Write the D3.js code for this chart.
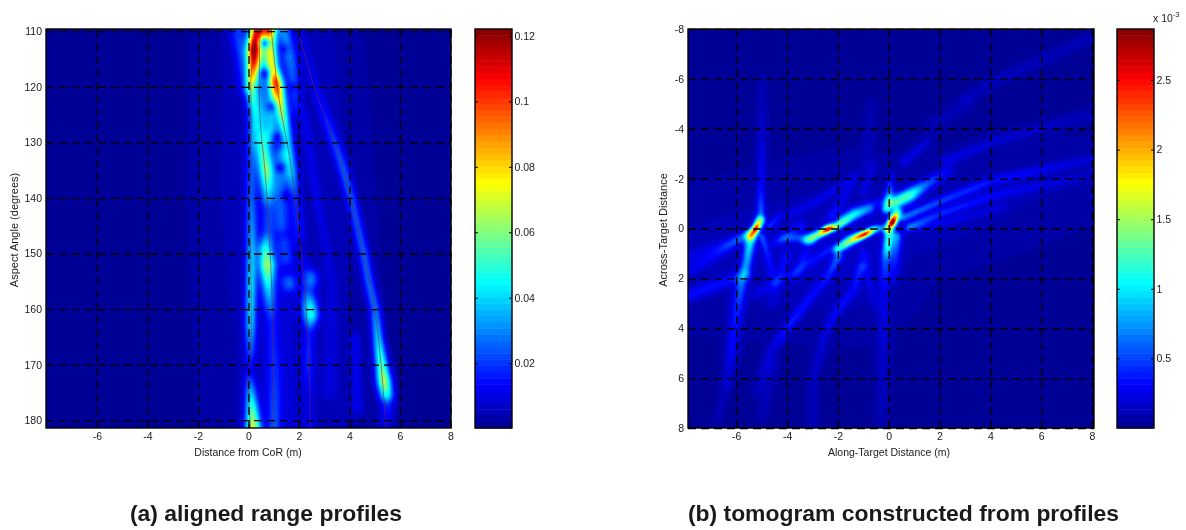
<!DOCTYPE html>
<html>
<head>
<meta charset="utf-8">
<script src="https://cdnjs.cloudflare.com/ajax/libs/d3/7.8.5/d3.min.js"></script>
<style>
  html, body { margin: 0; padding: 0; background: #fff; }
  #wrap { position: relative; width: 1186px; height: 530px; overflow: hidden; }
  canvas { position: absolute; }
  svg { position: absolute; left: 0; top: 0; }
  text { font-family: "Liberation Sans", Arial, sans-serif; fill: #1a1a1a; }
  .domain { display: none; }
</style>
</head>
<body>
<div id="wrap"></div>
<script>
// axis ticks
var rangeTicks = [-6, -4, -2, 0, 2, 4, 6, 8];
var angleTicks = [110, 120, 130, 140, 150, 160, 170, 180];
var alongTicks = [-6, -4, -2, 0, 2, 4, 6, 8];
var acrossTicks = [-8, -6, -4, -2, 0, 2, 4, 6, 8];
var profileBarTicks = [0.02, 0.04, 0.06, 0.08, 0.1, 0.12];
var tomoBarTicks = [0.5, 1, 1.5, 2, 2.5];

// jet colormap stops
var jetStops = ["#00008f", "#0000ff", "#00ffff", "#ffff00", "#ff0000", "#800000"];

// range profiles, each ridge is a list of [distance m, angle deg, amplitude, half width m]
var profileRidges = [
  // broad glow behind the scatterers
  [[0.9, 108, 0.007, 0.6], [1.0, 125, 0.009, 0.65], [1.0, 145, 0.008, 0.7], [1.3, 165, 0.006, 0.8], [1.2, 182, 0.007, 0.8]],
  [[-0.5, 108, 0.003, 1.2], [-0.6, 140, 0.003, 1.2], [-0.5, 182, 0.002, 1.2]],
  [[3.0, 110, 0.003, 1.0], [3.6, 145, 0.003, 1.0], [3.4, 182, 0.003, 1.2]],
  // left scatterer
  [[0.3, 109, 0.09, 0.17], [0.2, 113, 0.135, 0.16], [0.18, 116, 0.105, 0.15], [0.08, 120, 0.062, 0.13], [0.18, 125, 0.03, 0.13], [0.1, 132, 0.018, 0.13], [0.08, 140, 0.022, 0.13], [0.1, 147, 0.032, 0.13], [0.08, 155, 0.044, 0.13], [0.06, 163, 0.04, 0.13], [0.05, 168, 0.02, 0.13], [-0.02, 171, 0.008, 0.12], [0.05, 174, 0.03, 0.14], [0.12, 178, 0.056, 0.16], [0.18, 182, 0.074, 0.2]],
  // middle scatterer
  [[0.6, 109, 0.07, 0.16], [0.55, 112, 0.03, 0.13], [0.45, 120, 0.018, 0.14], [0.45, 127, 0.03, 0.17], [0.55, 131, 0.046, 0.2], [0.68, 135, 0.056, 0.19], [0.72, 138, 0.04, 0.17], [0.75, 142, 0.012, 0.14], [0.75, 146, 0.014, 0.15], [0.65, 149, 0.044, 0.18], [0.72, 152, 0.062, 0.2], [0.76, 156, 0.038, 0.16], [0.9, 162, 0.01, 0.15], [1.0, 172, 0.012, 0.18], [1.0, 182, 0.018, 0.15]],
  // right scatterer
  [[0.85, 109, 0.08, 0.15], [0.85, 113, 0.07, 0.15], [0.9, 116, 0.075, 0.15], [1.12, 120, 0.082, 0.16], [1.25, 123, 0.07, 0.14], [1.4, 127, 0.05, 0.14], [1.55, 131, 0.034, 0.14], [1.65, 135, 0.036, 0.16], [1.85, 140, 0.014, 0.14], [2.0, 147, 0.011, 0.16]],
  // far scatterer track
  [[2.0, 109, 0.005, 0.14], [2.55, 119, 0.008, 0.15], [3.0, 125, 0.013, 0.15], [3.4, 130, 0.02, 0.14], [3.75, 135, 0.024, 0.14], [4.05, 140, 0.024, 0.13], [4.3, 145, 0.024, 0.13], [4.55, 150, 0.026, 0.13], [4.75, 155, 0.028, 0.13], [5.0, 160, 0.03, 0.13], [5.1, 165, 0.044, 0.13], [5.25, 170, 0.06, 0.16], [5.35, 173, 0.074, 0.18], [5.45, 175.5, 0.05, 0.18], [5.48, 177, 0.018, 0.18], [5.4, 182, 0.006, 0.2]],
  // second bright track
  [[2.2, 150, 0.005, 0.15], [2.3, 156, 0.011, 0.18], [2.4, 159, 0.04, 0.2], [2.45, 161, 0.048, 0.2], [2.4, 164, 0.012, 0.14], [2.35, 170, 0.014, 0.14], [2.4, 176, 0.006, 0.12], [2.4, 182, 0.009, 0.12]],
  // faint side tracks
  [[-0.5, 109, 0.016, 0.22], [-0.25, 114, 0.02, 0.2], [-0.15, 120, 0.011, 0.2]],
  [[1.35, 109, 0.026, 0.16], [1.6, 114, 0.024, 0.18], [1.75, 118, 0.02, 0.16], [1.9, 124, 0.01, 0.16]],
  [[2.2, 125, 0.007, 0.14], [2.7, 140, 0.008, 0.14], [3.3, 155, 0.006, 0.14], [3.2, 175, 0.006, 0.2]],
  [[4.2, 165, 0.009, 0.14], [4.3, 178, 0.01, 0.14]],
  // beads
  [[1.6, 155.5, 0.02, 0.2], [1.6, 155, 0.02, 0.2]],
  [[2.5, 154, 0.02, 0.18], [2.5, 155, 0.02, 0.18]],
  [[1.4, 148, 0.013, 0.2], [1.5, 151, 0.013, 0.2]],
  [[1.3, 132, 0.02, 0.18], [1.2, 138, 0.018, 0.2], [1.3, 145, 0.015, 0.2]],
  [[1.0, 119, 0.026, 0.18], [0.85, 124, 0.026, 0.16], [0.9, 129, 0.03, 0.16]]
];

// dark nulls between the beads, [distance m, angle deg, strength, radius m]
var profileNulls = [
  [0.62, 112, 0.9, 0.13], [0.62, 117.5, 0.9, 0.13], [0.88, 123.5, 0.75, 0.12], [1.08, 129, 0.85, 0.12],
  [1.25, 134.5, 0.85, 0.13], [1.45, 139.5, 0.65, 0.13], [1.4, 113, 0.6, 0.12], [1.7, 120, 0.5, 0.12]
];

// thin tracks drawn over the image, [distance m, angle deg]
var trackLeft = [[0.28, 109.6], [0.1, 118], [0.1, 125], [0.05, 140], [0.1, 155], [0.08, 168], [-0.02, 172], [0.08, 181.4]];
var trackMiddle = [[0.45, 109.6], [0.45, 125], [0.65, 135], [0.8, 145], [0.95, 160], [1.0, 181.4]];
var trackRight = [[0.9, 109.6], [1.2, 122], [1.6, 132], [1.9, 142], [2.2, 155], [2.4, 170], [2.45, 181.4]];
var trackFar = [[1.95, 109.6], [2.6, 120], [3.4, 130], [4.05, 140], [4.55, 150], [5.0, 160], [5.25, 170], [5.45, 181.4]];

// tomogram streaks, [along m, across m, amplitude x1e-3, half width m]
var tomoRidges = [
  // glow
  [[-8, 1.2, 0.08, 1.6], [-2, 0.8, 0.13, 1.9], [0.5, -0.3, 0.1, 1.4], [8, -2, 0.04, 1.2]],
  // four bright spots
  [[-5.45, 0.28, 1.0, 0.12], [-5.25, 0, 3.1, 0.09], [-5.1, -0.32, 1.2, 0.12]],
  [[-3.2, 0.45, 0.8, 0.14], [-2.75, 0.2, 1.6, 0.1], [-2.4, 0, 3.1, 0.09], [-2.05, -0.12, 1.3, 0.1], [-1.4, -0.5, 0.75, 0.11], [-0.75, -0.8, 0.45, 0.12]],
  [[-2.05, 0.8, 1.0, 0.12], [-1.5, 0.45, 1.6, 0.12], [-0.95, 0.2, 3.0, 0.08], [-0.55, 0, 1.2, 0.09], [-0.3, -0.05, 0.5, 0.09]],
  [[-0.05, 0, 1.2, 0.11], [0.12, -0.27, 3.5, 0.1], [0.32, -0.65, 1.2, 0.12]],
  // around the right spot
  [[0.2, -1.05, 1.2, 0.18], [0.8, -1.35, 1.2, 0.18], [1.4, -1.75, 0.55, 0.16], [2.4, -2.35, 0.16, 0.14]],
  [[-0.12, -0.8, 1.0, 0.12], [0.02, -1.5, 0.55, 0.11], [0.05, -2.2, 0.15, 0.1]],
  [[0, 0.15, 1.0, 0.13], [-0.05, 0.6, 1.2, 0.12], [-0.15, 1.3, 0.45, 0.14], [-0.2, 2.4, 0.2, 0.16], [-0.25, 5, 0.14, 0.18], [-0.3, 8, 0.06, 0.18]],
  [[0.3, 0.3, 0.7, 0.12], [0.25, 0.9, 0.4, 0.14], [0.2, 2, 0.12, 0.16]],
  // rays going right
  [[0.55, -0.45, 0.6, 0.1], [2, -1.1, 0.42, 0.11], [4.1, -1.95, 0.28, 0.13], [8, -2.8, 0.13, 0.15]],
  [[0.8, -0.1, 0.5, 0.09], [2, -0.6, 0.34, 0.11], [4.1, -1.35, 0.22, 0.13], [8, -2.15, 0.08, 0.15]],
  [[0.7, 0, 0.25, 0.09], [2.2, -0.25, 0.15, 0.11], [4.5, -0.9, 0.1, 0.13]],
  [[2.2, -2.7, 0.2, 0.15], [4.1, -3.5, 0.15, 0.16], [8, -4.6, 0.09, 0.16]],
  [[0.6, -2.7, 0.2, 0.14], [1.5, -3.5, 0.15, 0.14]],
  [[3, -5.2, 0.09, 0.16], [4.1, -5.9, 0.1, 0.16], [8, -7.7, 0.08, 0.15]],
  [[1.8, -4.2, 0.07, 0.22], [3, -5, 0.07, 0.22]],
  // left spot tails
  [[-5.45, 0.35, 1.0, 0.14], [-5.6, 1.3, 0.7, 0.13], [-5.8, 2.1, 0.55, 0.15], [-6, 3.3, 0.34, 0.18], [-6.2, 5, 0.26, 0.18], [-6.4, 6.2, 0.08, 0.16]],
  [[-5.05, -0.4, 0.6, 0.11], [-5.05, -1.6, 0.3, 0.11], [-5, -3.9, 0.14, 0.14], [-5, -6, 0.06, 0.14]],
  [[-5, 0.3, 0.5, 0.09], [-4.8, 1, 0.28, 0.1], [-4.55, 2.1, 0.16, 0.11]],
  [[-5.55, 0.15, 0.4, 0.12], [-6.8, 1, 0.2, 0.15], [-8, 1.75, 0.15, 0.18]],
  [[-5.6, 1.8, 0.26, 0.14], [-8, 2.7, 0.26, 0.18]],
  [[-5.7, 0.35, 0.16, 0.12], [-8, 1.15, 0.11, 0.18]],
  [[-4.7, -0.1, 0.35, 0.1], [-4.3, -0.55, 0.22, 0.09]],
  [[-4.5, 0.55, 0.18, 0.12], [-4.1, 0.35, 0.35, 0.12], [-3.1, 0.4, 0.45, 0.12]],
  // fan below the middle spots
  [[-2, 1.1, 0.5, 0.12], [-2.35, 1.8, 0.28, 0.12], [-2.9, 2.5, 0.22, 0.13], [-3.9, 3.8, 0.34, 0.14], [-4.7, 5, 0.16, 0.15], [-5.2, 6.5, 0.1, 0.15]],
  [[-1.1, 1.5, 0.34, 0.12], [-1.4, 2.5, 0.2, 0.13], [-2, 3.2, 0.28, 0.13], [-2.5, 4.1, 0.17, 0.14], [-3, 6, 0.12, 0.14], [-3, 8, 0.08, 0.16]],
  [[-4, 1, 0.25, 0.12], [-4.35, 2, 0.16, 0.12], [-4.6, 3, 0.11, 0.14]],
  [[-3.3, 1, 0.2, 0.12], [-3.7, 2, 0.16, 0.12]],
  [[-2.4, 0.85, 0.25, 0.11], [-3.5, 1.6, 0.2, 0.12], [-5.2, 2.6, 0.14, 0.14]],
  [[-4.55, 5.4, 0.1, 0.15], [-5, 7.5, 0.08, 0.16]],
  [[-6.4, 6.2, 0.1, 0.14], [-6.8, 7.8, 0.06, 0.14]],
  [[-1, 1, 0.2, 0.12], [-0.6, 3, 0.1, 0.12]],
  // rays above the middle spots
  [[-1.9, -0.4, 0.45, 0.12], [-1.4, -0.7, 0.55, 0.12], [-0.9, -0.9, 0.28, 0.12], [-0.35, -1.1, 0.18, 0.12]],
  [[-2.3, -0.5, 0.26, 0.11], [-1.75, -1.3, 0.16, 0.12], [-1.3, -2.2, 0.1, 0.12]],
  [[-3.9, -0.6, 0.14, 0.12], [-2.7, -1.2, 0.17, 0.12], [-1.5, -2, 0.12, 0.14]],
  [[-1, -1.5, 0.16, 0.12], [-0.55, -2.6, 0.1, 0.14]],
  [[-0.9, -2.5, 0.09, 0.16], [-0.7, -5, 0.06, 0.16]],
  [[-3.5, -0.1, 0.24, 0.14], [-4.2, 0.4, 0.17, 0.12]]
];

var panelA = { left: 46, right: 451, top: 29, bottom: 428 };
var panelB = { left: 688, right: 1094, top: 29, bottom: 428 };

var xScaleA = d3.scaleLinear().domain([-8.02, 8.02]).range([panelA.left, panelA.right]);
var yScaleA = d3.scaleLinear().domain([109.6, 181.4]).range([panelA.top, panelA.bottom]);
var xScaleB = d3.scaleLinear().domain([-7.9, 8.08]).range([panelB.left, panelB.right]);
var yScaleB = d3.scaleLinear().domain([-8, 8]).range([panelB.top, panelB.bottom]);

var barA = { left: 475, right: 512, top: 29, bottom: 428 };
var barB = { left: 1117, right: 1154, top: 29, bottom: 428 };
var cDomainA = [0.0002, 0.1221];
var cDomainB = [0, 2.866];
var nColors = 64;

var jet = d3.scaleLinear()
  .domain([0, 0.11, 0.365, 0.615, 0.875, 1])
  .range(jetStops)
  .clamp(true);
var jetLevels = d3.range(nColors).map(function(i) { return jet((i + 0.5) / nColors); });

var wrap = d3.select("#wrap");

// soften a field with three box passes along each axis
function soften(field, w, h, radius) {
  var temp = new Float32Array(field.length);
  var size = 2 * radius + 1;
  for (var pass = 0; pass < 3; pass++) {
    for (var iy = 0; iy < h; iy++) {
      for (var ix = 0; ix < w; ix++) {
        var sum = 0;
        for (var k = -radius; k <= radius; k++) sum += field[iy * w + Math.max(0, Math.min(w - 1, ix + k))];
        temp[iy * w + ix] = sum / size;
      }
    }
    for (var jx = 0; jx < w; jx++) {
      for (var jy = 0; jy < h; jy++) {
        var sum2 = 0;
        for (var m = -radius; m <= radius; m++) sum2 += temp[Math.max(0, Math.min(h - 1, jy + m)) * w + jx];
        field[jy * w + jx] = sum2 / size;
      }
    }
  }
}

// paint one scalar field, ridges in data coordinates, on a canvas
function paintField(panel, xScale, yScale, ridges, nulls, domain, floor, blur) {
  var w = panel.right - panel.left;
  var h = panel.bottom - panel.top;
  var canvas = wrap.append("canvas")
    .attr("width", w).attr("height", h)
    .style("left", panel.left + "px").style("top", panel.top + "px");
  var ctx = canvas.node().getContext("2d");
  var field = new Float32Array(w * h).fill(floor);
  var pxPerUnit = Math.abs(xScale(1) - xScale(0));
  var temp = new Float32Array(w * h);

  ridges.forEach(function(ridge) {
    temp.fill(0);
    d3.pairs(ridge).forEach(function(pair) {
      var x0 = xScale(pair[0][0]) - panel.left, y0 = yScale(pair[0][1]) - panel.top;
      var x1 = xScale(pair[1][0]) - panel.left, y1 = yScale(pair[1][1]) - panel.top;
      var a0 = pair[0][2], a1 = pair[1][2];
      var s0 = pair[0][3] * pxPerUnit, s1 = pair[1][3] * pxPerUnit;
      var pad = 3.5 * Math.max(s0, s1);
      var ix0 = Math.max(0, Math.floor(Math.min(x0, x1) - pad)), ix1 = Math.min(w - 1, Math.ceil(Math.max(x0, x1) + pad));
      var iy0 = Math.max(0, Math.floor(Math.min(y0, y1) - pad)), iy1 = Math.min(h - 1, Math.ceil(Math.max(y0, y1) + pad));
      var dx = x1 - x0, dy = y1 - y0, len2 = dx * dx + dy * dy || 1;
      for (var iy = iy0; iy <= iy1; iy++) {
        for (var ix = ix0; ix <= ix1; ix++) {
          var t = Math.max(0, Math.min(1, ((ix - x0) * dx + (iy - y0) * dy) / len2));
          var ex = ix - (x0 + t * dx), ey = iy - (y0 + t * dy);
          var s = s0 + t * (s1 - s0);
          var v = (a0 + t * (a1 - a0)) * Math.exp(-(ex * ex + ey * ey) / (2 * s * s));
          if (v > temp[iy * w + ix]) temp[iy * w + ix] = v;
        }
      }
    });
    for (var i = 0; i < field.length; i++) field[i] += temp[i];
  });

  nulls.forEach(function(n) {
    var cx = xScale(n[0]) - panel.left, cy = yScale(n[1]) - panel.top, r = n[3] * pxPerUnit;
    for (var iy = Math.max(0, Math.floor(cy - 4 * r)); iy < Math.min(h, cy + 4 * r); iy++) {
      for (var ix = Math.max(0, Math.floor(cx - 4 * r)); ix < Math.min(w, cx + 4 * r); ix++) {
        var d2 = (ix - cx) * (ix - cx) + (iy - cy) * (iy - cy);
        field[iy * w + ix] *= 1 - n[2] * Math.exp(-d2 / (2 * r * r));
      }
    }
  });

  soften(field, w, h, blur);

  var color = d3.scaleQuantize().domain(domain).range(jetLevels.map(function(c) { return d3.rgb(c); }));
  var img = ctx.createImageData(w, h);
  for (var k = 0; k < field.length; k++) {
    var c = color(Math.min(domain[1], field[k]));
    img.data[k * 4] = c.r;
    img.data[k * 4 + 1] = c.g;
    img.data[k * 4 + 2] = c.b;
    img.data[k * 4 + 3] = 255;
  }
  ctx.putImageData(img, 0, 0);
}

paintField(panelA, xScaleA, yScaleA, profileRidges, profileNulls, cDomainA, 0.0012, 2);
paintField(panelB, xScaleB, yScaleB, tomoRidges, [], cDomainB, 0.03, 1);

var svg = wrap.append("svg").attr("width", 1186).attr("height", 530);

// thin tracks over the profiles
var track = d3.line()
  .x(function(d) { return xScaleA(d[0]); })
  .y(function(d) { return yScaleA(d[1]); })
  .curve(d3.curveCatmullRom);

svg.append("g").selectAll("path")
  .data([trackLeft, trackMiddle, trackRight, trackFar])
  .join("path")
  .attr("d", track)
  .attr("fill", "none")
  .attr("stroke", "#7a2040")
  .attr("stroke-opacity", 0.55)
  .attr("stroke-width", 1);

var tickFormat = function(d) { return String(d); };

function drawFrame(panel, xScale, yScale, xTicks, yTicks) {
  var w = panel.right - panel.left;
  var h = panel.bottom - panel.top;
  var g = svg.append("g");

  // dashed grid
  g.append("g").attr("transform", "translate(0," + panel.bottom + ")")
    .call(d3.axisBottom(xScale).tickValues(xTicks).tickSize(-h).tickFormat(""));
  g.append("g").attr("transform", "translate(" + panel.left + ",0)")
    .call(d3.axisLeft(yScale).tickValues(yTicks).tickSize(-w).tickFormat(""));
  g.selectAll("line")
    .attr("stroke", "#000").attr("stroke-width", 1.3).attr("stroke-dasharray", "8,5");

  // solid ticks on all four sides, labels on two
  var bottom = g.append("g").attr("transform", "translate(0," + panel.bottom + ")")
    .call(d3.axisBottom(xScale).tickValues(xTicks).tickSize(-4).tickPadding(5).tickFormat(tickFormat));
  var left = g.append("g").attr("transform", "translate(" + panel.left + ",0)")
    .call(d3.axisLeft(yScale).tickValues(yTicks).tickSize(-4).tickPadding(4).tickFormat(tickFormat));
  g.append("g").attr("transform", "translate(0," + panel.top + ")")
    .call(d3.axisTop(xScale).tickValues(xTicks).tickSize(-4).tickFormat(""));
  g.append("g").attr("transform", "translate(" + panel.right + ",0)")
    .call(d3.axisRight(yScale).tickValues(yTicks).tickSize(-4).tickFormat(""));
  bottom.selectAll("text").style("font-size", "10.5px").attr("y", 5).attr("dy", "0.71em").attr("fill", null);
  left.selectAll("text").style("font-size", "10.5px").attr("fill", null);

  g.append("rect")
    .attr("x", panel.left).attr("y", panel.top).attr("width", w).attr("height", h)
    .attr("fill", "none").attr("stroke", "#000").attr("stroke-width", 1.4);
}

function drawColorbar(bar, domain, ticks, fmt) {
  var y = d3.scaleLinear().domain(domain).range([bar.bottom, bar.top]);
  var w = bar.right - bar.left;
  var step = (domain[1] - domain[0]) / nColors;
  var g = svg.append("g");
  g.selectAll("rect").data(jetLevels).join("rect")
    .attr("x", bar.left).attr("width", w)
    .attr("y", function(d, i) { return y(domain[0] + (i + 1) * step); })
    .attr("height", (bar.bottom - bar.top) / nColors + 0.5)
    .attr("fill", function(d) { return d; });

  g.append("g").attr("transform", "translate(" + bar.left + ",0)")
    .call(d3.axisLeft(y).tickValues(ticks).tickSize(-3).tickFormat(""));
  var right = g.append("g").attr("transform", "translate(" + bar.right + ",0)")
    .call(d3.axisRight(y).tickValues(ticks).tickSize(-3).tickPadding(2.5).tickFormat(fmt));
  right.selectAll("text").style("font-size", "10.5px").attr("fill", null);

  g.append("rect")
    .attr("x", bar.left).attr("y", bar.top).attr("width", w).attr("height", bar.bottom - bar.top)
    .attr("fill", "none").attr("stroke", "#000").attr("stroke-width", 1.4);
}

drawFrame(panelA, xScaleA, yScaleA, rangeTicks, angleTicks);
drawFrame(panelB, xScaleB, yScaleB, alongTicks, acrossTicks);
drawColorbar(barA, cDomainA, profileBarTicks, tickFormat);
drawColorbar(barB, cDomainB, tomoBarTicks, tickFormat);

function label(x, y, str, size, weight, rotate) {
  var t = svg.append("text")
    .attr("text-anchor", "middle")
    .style("font-size", size + "px")
    .style("font-weight", weight)
    .text(str);
  if (rotate) t.attr("transform", "translate(" + x + "," + y + ") rotate(-90)");
  else t.attr("x", x).attr("y", y);
  return t;
}

label(248, 456, "Distance from CoR (m)", 10.5, "normal");
label(18, 230, "Aspect Angle (degrees)", 11, "normal", true);
label(889, 456, "Along-Target Distance (m)", 10.5, "normal");
label(667, 230, "Across-Target Distance", 11, "normal", true);
label(266, 521, "(a) aligned range profiles", 22.9, "bold");
label(903.5, 521, "(b) tomogram constructed from profiles", 22.9, "bold");

// colorbar exponent
var expo = svg.append("text").attr("x", 1153).attr("y", 22).style("font-size", "10.5px");
expo.append("tspan").text("x 10");
expo.append("tspan").attr("dy", -5).style("font-size", "7.5px").text("-3");
</script>
</body>
</html>
